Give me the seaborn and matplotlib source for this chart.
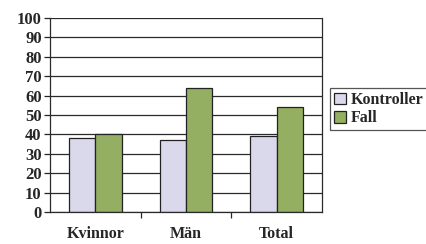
import matplotlib

matplotlib.use("Agg")
import matplotlib.pyplot as plt
import pandas as pd
import seaborn as sns

categories = ["Kvinnor", "Män", "Total"]
series = ["Kontroller", "Fall"]
kontroller = [38, 37, 39]
fall = [40, 64, 54]
yticks = list(range(0, 101, 10))

rows = []
for i, cat in enumerate(categories):
    rows.append({"grupp": cat, "serie": "Kontroller", "varde": kontroller[i]})
    rows.append({"grupp": cat, "serie": "Fall", "varde": fall[i]})
df = pd.DataFrame(rows)

sns.set_style("white")
plt.rcParams["font.family"] = ["Liberation Serif", "DejaVu Serif"]
plt.rcParams["font.weight"] = "bold"

fig = plt.figure(figsize=(4.27, 2.44), dpi=100)
ax = fig.add_axes([0.117, 0.131, 0.637, 0.795])

ax.yaxis.grid(True, color="#2a2a2a", linewidth=0.9)
ax.set_axisbelow(True)
sns.barplot(
    data=df, x="grupp", y="varde", hue="serie", order=categories, hue_order=series,
    palette={"Kontroller": "#d6d6ee", "Fall": "#98bb55"},
    width=0.58, edgecolor="#222222", linewidth=0.9, ax=ax,
)

ax.set_ylim(0, 100)
ax.set_yticks(yticks)
ax.set_xlim(-0.5, 2.5)
ax.set_xlabel("")
ax.set_ylabel("")
ax.tick_params(axis="y", length=4, width=0.9, direction="out", left=True, labelsize=12, pad=2)
ax.tick_params(axis="x", length=0, labelsize=11.5, pad=10)
for lbl in ax.get_xticklabels() + ax.get_yticklabels():
    lbl.set_fontweight("bold")

# små markeringar mellan grupperna på x-axeln
ax.set_xticks([0.5, 1.5], minor=True)
ax.tick_params(axis="x", which="minor", length=4, width=0.9, direction="out", bottom=True)

for side in ["left", "bottom", "right"]:
    ax.spines[side].set_color("#2a2a2a")
    ax.spines[side].set_linewidth(0.9)
ax.spines["top"].set_visible(False)

leg = ax.legend(
    loc="center left", bbox_to_anchor=(1.012, 0.53), frameon=True, fancybox=False,
    edgecolor="#2a2a2a", handlelength=0.75, handleheight=0.75, handletextpad=0.3,
    borderpad=0.25, labelspacing=0.15, borderaxespad=0.3,
    prop={"weight": "bold", "size": 11.5},
)
leg.get_frame().set_linewidth(0.9)

fig.savefig("out.png", dpi=100)
